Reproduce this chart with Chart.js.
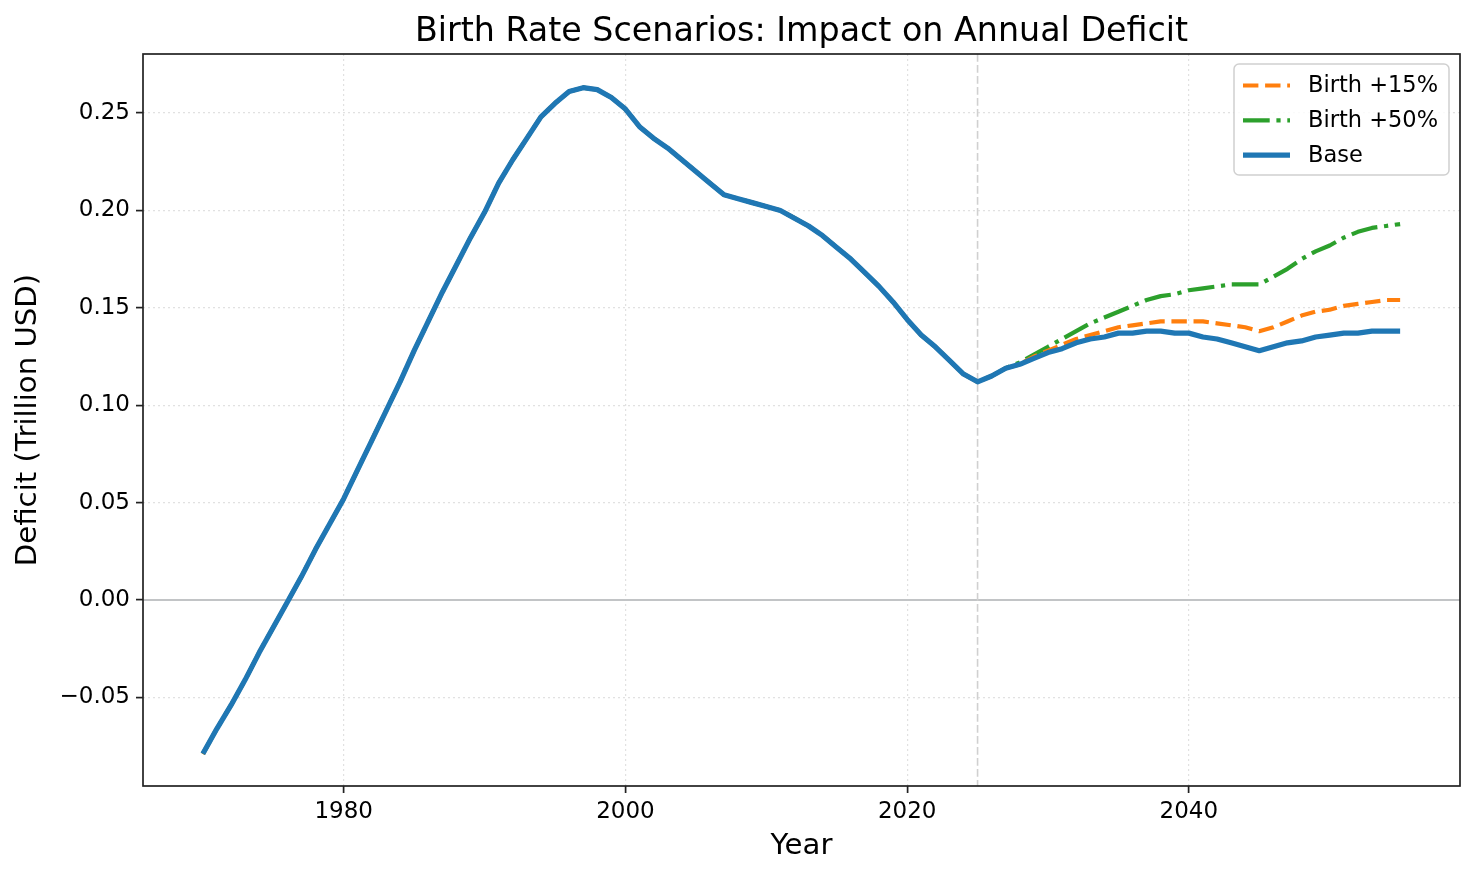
<!DOCTYPE html>
<html lang="en">
<head>
  <meta charset="UTF-8" />
  <title>Birth Rate Scenarios: Impact on Annual Deficit</title>

  <!-- Chart.js v4 -->
  <script src="https://cdn.jsdelivr.net/npm/chart.js@4.4.0/dist/chart.umd.min.js"></script>

  <style>
    html, body { margin: 0; padding: 0; background: #ffffff; overflow: hidden; }
    canvas { display: block; }
  </style>
</head>
<body>
  <canvas id="deficitChart" width="1475" height="876"></canvas>

  <script>
    /* ---------- DATA ---------- */
    var firstYear = 1970;
    var projStart = 2028;      // scenarios split from the base line here
    var splitYear = 2025;      // dashed "today" marker

    // Base deficit, trillion USD, 1970..2055
    var base = [
      -0.079, -0.066, -0.054, -0.041, -0.027, -0.014, -0.001, 0.012, 0.026, 0.039,
       0.052,  0.067,  0.082,  0.097,  0.112,  0.128,  0.143, 0.158, 0.172, 0.186,
       0.199,  0.214,  0.226,  0.237,  0.248,  0.255,  0.261, 0.263, 0.262, 0.258,
       0.252,  0.243,  0.237,  0.232,  0.226,  0.220,  0.214, 0.208, 0.206, 0.204,
       0.202,  0.200,  0.196,  0.192,  0.187,  0.181,  0.175, 0.168, 0.161, 0.153,
       0.144,  0.136,  0.130,  0.123,  0.116,  0.112,  0.115, 0.119, 0.121, 0.124,
       0.127,  0.129,  0.132,  0.134,  0.135,  0.137,  0.137, 0.138, 0.138, 0.137,
       0.137,  0.135,  0.134,  0.132,  0.130,  0.128,  0.130, 0.132, 0.133, 0.135,
       0.136,  0.137,  0.137,  0.138,  0.138,  0.138
    ];

    // Scenario projections, 2028..2055
    var birth15Proj = [
      0.121, 0.125, 0.128, 0.131, 0.134, 0.136, 0.138, 0.140, 0.141, 0.142,
      0.143, 0.143, 0.143, 0.143, 0.142, 0.141, 0.140, 0.138, 0.140, 0.143,
      0.146, 0.148, 0.149, 0.151, 0.152, 0.153, 0.154, 0.154
    ];
    var birth50Proj = [
      0.122, 0.126, 0.130, 0.134, 0.138, 0.142, 0.145, 0.148, 0.151, 0.154,
      0.156, 0.157, 0.159, 0.160, 0.161, 0.162, 0.162, 0.162, 0.166, 0.170,
      0.175, 0.179, 0.182, 0.186, 0.189, 0.191, 0.192, 0.193
    ];

    var xTicks = [1980, 2000, 2020, 2040];
    var yTicks = [-0.05, 0.00, 0.05, 0.10, 0.15, 0.20, 0.25];
    var xMin = 1965.75, xMax = 2059.25;
    var yMin = -0.0955, yMax = 0.2803;

    var chartTitle = 'Birth Rate Scenarios: Impact on Annual Deficit';

    /* ---------- helpers ---------- */
    var FONT = '"DejaVu Sans", "Liberation Sans", sans-serif';

    function toPoints(values) {
      return values.map(function (v, i) { return { x: firstYear + i, y: v }; });
    }

    // scenarios follow the base history until the projection starts
    var baseHistory = base.slice(0, projStart - firstYear);
    var birth15 = baseHistory.concat(birth15Proj);
    var birth50 = baseHistory.concat(birth50Proj);

    /* ---------- plugins: title, reference lines, frame, legend ---------- */
    // title centred over the plot area (not the whole canvas)
    var plotTitle = {
      id: 'plotTitle',
      afterDraw: function (chart) {
        var ctx = chart.ctx, a = chart.chartArea;
        ctx.save();
        ctx.fillStyle = '#000000';
        ctx.font = '33.3px ' + FONT;
        ctx.textAlign = 'center';
        ctx.textBaseline = 'alphabetic';
        ctx.fillText(chartTitle, (a.left + a.right) / 2, a.top - 13);
        ctx.restore();
      }
    };

    var refLines = {
      id: 'refLines',
      beforeDatasetsDraw: function (chart) {
        var ctx = chart.ctx, a = chart.chartArea;
        var y0 = chart.scales.y.getPixelForValue(0);
        var xs = chart.scales.x.getPixelForValue(splitYear);
        ctx.save();
        ctx.beginPath();
        ctx.rect(a.left, a.top, a.right - a.left, a.bottom - a.top);
        ctx.clip();
        // zero line
        ctx.strokeStyle = '#c2c4c6';
        ctx.lineWidth = 2;
        ctx.beginPath(); ctx.moveTo(a.left, y0); ctx.lineTo(a.right, y0); ctx.stroke();
        // 2025 marker
        ctx.strokeStyle = '#d0d0d0';
        ctx.lineWidth = 1.6;
        ctx.setLineDash([7.7, 3.3]);
        ctx.beginPath(); ctx.moveTo(xs, a.top); ctx.lineTo(xs, a.bottom); ctx.stroke();
        ctx.restore();
      }
    };

    var frame = {
      id: 'frame',
      afterDatasetsDraw: function (chart) {
        var ctx = chart.ctx, a = chart.chartArea;
        ctx.save();
        ctx.strokeStyle = '#222222';
        ctx.lineWidth = 1.7;
        ctx.strokeRect(a.left, a.top, a.right - a.left, a.bottom - a.top);
        ctx.restore();
      }
    };

    var legendOrder = [1, 2, 0];   // Birth +15%, Birth +50%, Base
    var boxLegend = {
      id: 'boxLegend',
      afterDraw: function (chart) {
        var ctx = chart.ctx, a = chart.chartArea;
        var w = 215, h = 111;
        var x0 = a.right - 226, y0 = a.top + 10;
        ctx.save();
        ctx.beginPath();
        if (ctx.roundRect) { ctx.roundRect(x0, y0, w, h, 5); } else { ctx.rect(x0, y0, w, h); }
        ctx.fillStyle = 'rgba(255,255,255,0.85)';
        ctx.fill();
        ctx.strokeStyle = '#d0d0d0';
        ctx.lineWidth = 1.5;
        ctx.stroke();

        legendOrder.forEach(function (idx, row) {
          var ds = chart.data.datasets[idx];
          var cy = y0 + 21.5 + row * 34.8;
          ctx.beginPath();
          ctx.setLineDash(ds.borderDash || []);
          ctx.lineWidth = ds.borderWidth;
          ctx.strokeStyle = ds.borderColor;
          ctx.moveTo(x0 + 9, cy);
          ctx.lineTo(x0 + 56, cy);
          ctx.stroke();
          ctx.setLineDash([]);
          ctx.fillStyle = '#000000';
          ctx.font = '22.5px ' + FONT;
          ctx.textAlign = 'left';
          ctx.textBaseline = 'middle';
          ctx.fillText(ds.label, x0 + 74, cy + 1);
        });
        ctx.restore();
      }
    };

    /* ---------- chart ---------- */
    var gridOpts = {
      color: 'rgba(200,200,200,0.55)',
      lineWidth: 1.2,
      tickColor: '#222222',
      tickLength: 7,
      tickWidth: 1.7
    };

    new Chart(document.getElementById('deficitChart').getContext('2d'), {
      type: 'line',
      data: {
        datasets: [
          {
            label: 'Base',
            data: toPoints(base),
            borderColor: '#1f77b4',
            borderWidth: 5.2,
            borderJoinStyle: 'round',
            pointRadius: 0,
            tension: 0
          },
          {
            label: 'Birth +15%',
            data: toPoints(birth15),
            borderColor: '#ff7f0e',
            borderWidth: 4.2,
            borderDash: [15.4, 6.7],
            borderJoinStyle: 'round',
            pointRadius: 0,
            tension: 0
          },
          {
            label: 'Birth +50%',
            data: toPoints(birth50),
            borderColor: '#2ca02c',
            borderWidth: 4.2,
            borderDash: [26.7, 6.7, 4.2, 6.7],
            borderJoinStyle: 'round',
            pointRadius: 0,
            tension: 0
          }
        ]
      },
      options: {
        responsive: false,
        devicePixelRatio: 1,
        animation: false,
        layout: { padding: { left: 0, right: 15, top: 54, bottom: 0 } },
        plugins: {
          legend: { display: false },
          tooltip: { enabled: false },
          title: { display: false }
        },
        scales: {
          x: {
            type: 'linear',
            min: xMin,
            max: xMax,
            afterBuildTicks: function (s) { s.ticks = xTicks.map(function (v) { return { value: v }; }); },
            afterFit: function (s) { s.height = 90; },
            ticks: {
              color: '#000000',
              font: { family: FONT, size: 23 },
              padding: 5,
              maxRotation: 0,
              autoSkip: false,
              callback: function (v) { return String(v); }
            },
            grid: gridOpts,
            border: { display: false, dash: [2, 3] },
            title: {
              display: true,
              text: 'Year',
              color: '#000000',
              font: { family: FONT, size: 29.2 },
              padding: { top: 0, bottom: 12 }
            }
          },
          y: {
            type: 'linear',
            min: yMin,
            max: yMax,
            afterBuildTicks: function (s) { s.ticks = yTicks.map(function (v) { return { value: v }; }); },
            afterFit: function (s) { s.width = 143; },
            ticks: {
              color: '#000000',
              font: { family: FONT, size: 23 },
              padding: 6,
              callback: function (v) { return v.toFixed(2).replace('-', '\u2212'); }
            },
            grid: gridOpts,
            border: { display: false, dash: [2, 3] },
            title: {
              display: true,
              text: 'Deficit (Trillion USD)',
              color: '#000000',
              font: { family: FONT, size: 29.2 },
              padding: { top: 11, bottom: 0 }
            }
          }
        }
      },
      plugins: [refLines, frame, boxLegend, plotTitle]
    });
  </script>
</body>
</html>
